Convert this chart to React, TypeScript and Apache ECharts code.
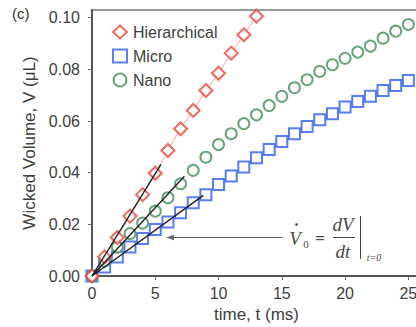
import React, { useEffect, useRef } from "react";
import * as echarts from "echarts";

// Sampling times (ms)
const timeHier = [0, 1, 2, 3, 4, 5, 6, 7, 8, 9, 10, 11, 12, 13];
const timeAll = [0, 1, 2, 3, 4, 5, 6, 7, 8, 9, 10, 11, 12, 13, 14, 15, 16, 17, 18, 19, 20, 21, 22, 23, 24, 25];

// Wicked volume (µL)
const hierarchical = [0, 0.0074, 0.0149, 0.0232, 0.0315, 0.0398, 0.0486, 0.057, 0.0641, 0.0718, 0.0785, 0.0863, 0.0934, 0.1006];
const micro = [0, 0.0035, 0.0074, 0.0112, 0.0145, 0.018, 0.0209, 0.0245, 0.0284, 0.0315, 0.0354, 0.0387, 0.0422, 0.0458, 0.049, 0.0521, 0.0551, 0.0579, 0.0605, 0.0628, 0.0654, 0.0676, 0.0696, 0.0718, 0.0738, 0.0757];
const nano = [0, 0.0058, 0.0112, 0.0164, 0.0205, 0.0251, 0.0303, 0.0357, 0.0409, 0.046, 0.0509, 0.0551, 0.059, 0.0624, 0.066, 0.0696, 0.0729, 0.076, 0.0792, 0.0818, 0.0843, 0.0867, 0.089, 0.0921, 0.0948, 0.0974];

// Initial-slope tangent lines [t, V]
const tangentHier = [[0, 0], [5.45, 0.0432]];
const tangentNano = [[0, 0], [7.3, 0.0386]];
const tangentMicro = [[0, 0], [8.8, 0.0312]];

const xTicks = [0, 5, 10, 15, 20, 25];
const yTicks = [0, 0.02, 0.04, 0.06, 0.08, 0.1];

const RED = "#ef4136";
const BLUE = "#2d5cec";
const GREEN = "#458d58";
const TEXT = "#404040";
const SANS = '"Liberation Sans", Arial, sans-serif';
const SERIF = '"Liberation Serif", "Times New Roman", serif';

const zip = (xs: number[], ys: number[]) => xs.map((x, i) => [x, ys[i]]);

export default function App() {
  const ref = useRef<HTMLDivElement>(null);

  useEffect(() => {
    if (!ref.current) return;
    const chart = echarts.init(ref.current, undefined, { renderer: "svg" });

    const markerSeries = (name: string, data: number[][], color: string, symbol: string, size: number) => ({
      name,
      type: "scatter",
      data,
      symbol,
      symbolSize: size,
      legendIcon: symbol,
      itemStyle: { color: "#ffffff", borderColor: color, borderWidth: 2 },
      z: 3,
    });

    const tangent = (data: number[][]) => ({
      type: "line",
      data,
      symbol: "none",
      lineStyle: { color: "#222222", width: 1.4 },
      z: 4,
      silent: true,
    });

    chart.setOption({
      animation: false,
      backgroundColor: "#ffffff",
      grid: {
        left: 92,
        top: 10,
        right: -5,
        bottom: 51,
        show: true,
        borderColor: "#7a7a7a",
        borderWidth: 1.5,
        backgroundColor: "transparent",
        containLabel: false,
        outerBoundsMode: "none",
      },
      legend: {
        orient: "vertical",
        left: 112,
        top: 24,
        padding: 0,
        itemWidth: 14,
        itemHeight: 13,
        itemGap: 8,
        textStyle: { color: TEXT, fontSize: 16, fontFamily: SANS, padding: [0, 0, 0, 1] },
        data: [
          { name: "Hierarchical", icon: "diamond" },
          { name: "Micro", icon: "rect" },
          { name: "Nano", icon: "circle" },
        ],
      },
      xAxis: {
        type: "value",
        min: 0,
        max: 26,
        interval: 5,
        name: "time, t (ms)",
        nameLocation: "middle",
        nameGap: 30,
        nameTextStyle: { color: TEXT, fontSize: 17, fontFamily: SANS },
        axisLine: { show: true, lineStyle: { color: "#555555", width: 2 } },
        axisTick: { show: true, inside: false, length: 4, lineStyle: { color: "#666666", width: 1 }, customValues: xTicks },
        axisLabel: { color: TEXT, fontSize: 16, fontFamily: SANS, margin: 9, customValues: xTicks },
        splitLine: { show: false },
      },
      yAxis: {
        type: "value",
        min: 0,
        max: 0.103,
        interval: 0.02,
        name: "Wicked Volume, V (\u03bcL)",
        nameLocation: "middle",
        nameGap: 51,
        nameTextStyle: { color: TEXT, fontSize: 17, fontFamily: SANS },
        axisLine: { show: true, lineStyle: { color: "#555555", width: 2 } },
        axisTick: { show: true, inside: false, length: 4, lineStyle: { color: "#666666", width: 1 }, customValues: yTicks },
        axisLabel: {
          color: TEXT,
          fontSize: 16,
          fontFamily: SANS,
          margin: 12,
          customValues: yTicks,
          formatter: (v: number) => v.toFixed(2),
        },
        splitLine: { show: false },
      },
      series: [
        {
          type: "line",
          data: zip(timeHier, hierarchical),
          symbol: "none",
          lineStyle: { color: "#f6a79f", width: 1 },
          z: 2,
          silent: true,
        },
        markerSeries("Micro", zip(timeAll, micro), BLUE, "rect", 11),
        markerSeries("Nano", zip(timeAll, nano), GREEN, "circle", 11),
        markerSeries("Hierarchical", zip(timeHier, hierarchical), RED, "diamond", 13),
        tangent(tangentHier),
        tangent(tangentNano),
        tangent(tangentMicro),
      ],
      graphic: [
        // panel letter
        { type: "text", x: 12, y: 13, style: { text: "(c)", font: `15px ${SANS}`, fill: "#333333", align: "left", verticalAlign: "middle" } },
        // arrow pointing to the initial slopes
        { type: "line", shape: { x1: 172, y1: 237.5, x2: 283, y2: 237.5 }, style: { stroke: "#666666", lineWidth: 1 } },
        { type: "polygon", shape: { points: [[166, 237.5], [174, 234.8], [174, 240.2]] }, style: { fill: "#666666" } },
        // V-dot with subscript 0
        { type: "text", x: 295, y: 238, style: { text: "V", font: `italic 19px ${SERIF}`, fill: "#4a4a4a", align: "center", verticalAlign: "middle" } },
        { type: "circle", shape: { cx: 296.5, cy: 224.5, r: 1.3 }, style: { fill: "#4a4a4a" } },
        { type: "text", x: 306, y: 244, style: { text: "0", font: `11px ${SERIF}`, fill: "#4a4a4a", align: "center", verticalAlign: "middle" } },
        { type: "text", x: 320, y: 238, style: { text: "=", font: `bold 17px ${SERIF}`, fill: "#4a4a4a", align: "center", verticalAlign: "middle" } },
        // dV / dt fraction
        { type: "text", x: 343, y: 224, style: { text: "dV", font: `italic 19px ${SERIF}`, fill: "#4a4a4a", align: "center", verticalAlign: "middle" } },
        { type: "line", shape: { x1: 333, y1: 237.5, x2: 355, y2: 237.5 }, style: { stroke: "#4a4a4a", lineWidth: 1 } },
        { type: "text", x: 343, y: 251, style: { text: "dt", font: `italic 19px ${SERIF}`, fill: "#4a4a4a", align: "center", verticalAlign: "middle" } },
        // evaluation bar with t=0
        { type: "line", shape: { x1: 360.5, y1: 216, x2: 360.5, y2: 259 }, style: { stroke: "#4a4a4a", lineWidth: 1 } },
        { type: "text", x: 374, y: 257, style: { text: "t=0", font: `italic 10px ${SERIF}`, fill: "#4a4a4a", align: "center", verticalAlign: "middle" } },
      ],
    });

    return () => chart.dispose();
  }, []);

  return <div ref={ref} style={{ width: 416, height: 327, position: "absolute", left: 0, top: 0 }} />;
}
